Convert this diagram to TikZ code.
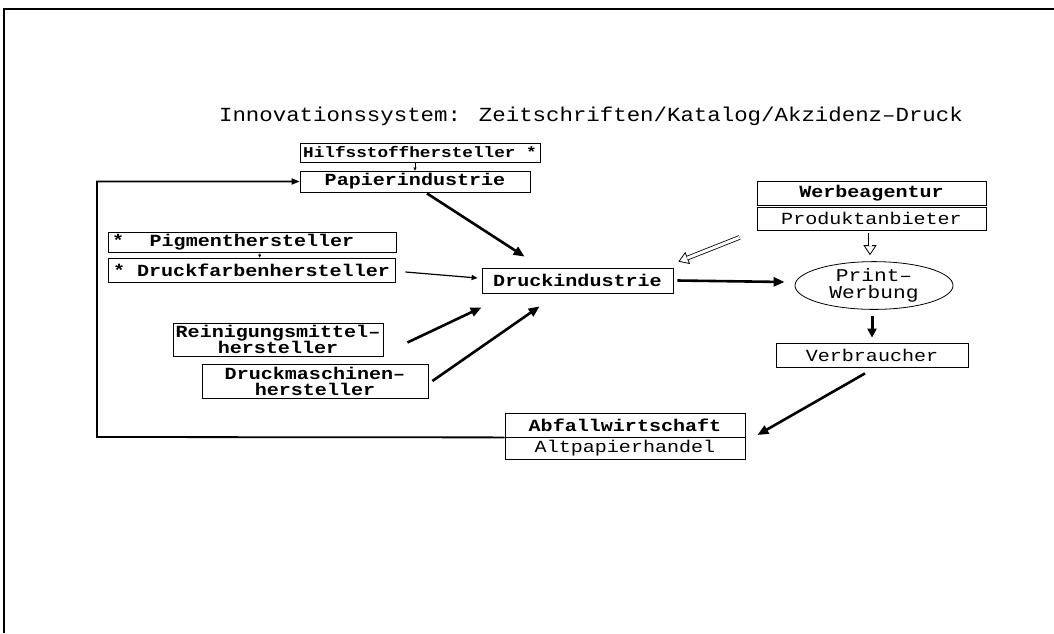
\documentclass[tikz,border=0pt]{standalone}
\usepackage{fontspec}
\usetikzlibrary{arrows.meta,calc,shapes.geometric}
\newfontfamily\tfont{Liberation Mono}[FakeStretch=1.12]
\newfontfamily\bfont{Liberation Mono}[FakeStretch=1.18]
\begin{document}
\begin{tikzpicture}[x=1pt,y=-1pt,
  box/.style={draw, line width=0.8pt, inner sep=1pt, align=center,
    font=\bfont\bfseries\fontsize{17}{16}\selectfont},
  lbox/.style={box, font=\bfont\fontsize{17}{16}\selectfont},
  thickarrow/.style={line width=2.6pt, -{Triangle[length=11pt,width=9pt]}},
  thinarrow/.style={line width=1.2pt, -{Triangle[length=6pt,width=5pt]}},
  tinyarrow/.style={line width=0.6pt, -{Triangle[length=3pt,width=3pt]}},
  hollowtip/.style={line width=0.8pt, -{Triangle[open,length=10pt,width=13pt]}},
  hollowshaft/.style={double, double distance=3pt, line width=0.8pt, shorten >=9.5pt},
  loopline/.style={line width=1.8pt, line join=miter, -{Triangle[length=8pt,width=6pt]}}]
\useasboundingbox (0,0) rectangle (1054,633);
\fill[white] (0,0) rectangle (1054,633);
\draw[line width=2pt] (4,633) -- (4,9) -- (1054,9);

\node[font=\tfont\fontsize{20}{22}\selectfont, inner sep=0pt] (title) at (591,116)
  {Innovationssystem: Zeitschriften/Katalog/Akzidenz–Druck};

\node[box, minimum width=240pt, minimum height=19pt, font=\bfont\bfseries\fontsize{15}{14}\selectfont] (hilf) at (420,152.5) {Hilfsstoffhersteller *};
\node[box, minimum width=230pt, minimum height=21pt] (papier) at (415,181.5) {Papierindustrie};
\node[box, minimum width=288pt, minimum height=20pt] (pigment) at (252,242)
  {\makebox[280pt]{*\hfill Pigmenthersteller\hfill\phantom{*}}};
\node[box, minimum width=287pt, minimum height=24pt] (farben) at (251.5,270) {* Druckfarbenhersteller};
\node[box, minimum width=191pt, minimum height=25pt] (druck) at (577.5,280.5) {Druckindustrie};
\node[box, minimum width=210pt, minimum height=33pt, inner sep=0pt] (rein) at (278,339.5) {Reinigungsmittel–\\hersteller};
\node[box, minimum width=226pt, minimum height=34pt, inner sep=0pt] (dmasch) at (315,381) {Druckmaschinen–\\hersteller};
\node[box, minimum width=229pt, minimum height=24pt] (werbe) at (871.5,193) {Werbeagentur};
\node[lbox, minimum width=229pt, minimum height=23pt] (produkt) at (871.5,218.5) {Produktanbieter};
\node[ellipse, draw, line width=0.8pt, minimum width=158pt, minimum height=43pt, inner sep=0pt,
  align=center, font=\bfont\fontsize{18}{17}\selectfont] (pw) at (874,285.5) {Print–\\Werbung};
\node[lbox, minimum width=192pt, minimum height=24pt] (verbr) at (872,355) {Verbraucher};
\node[box, minimum width=240pt, minimum height=24pt] (abfall) at (625,425) {Abfallwirtschaft};
\node[lbox, minimum width=240pt, minimum height=22pt] (altp) at (625,448) {Altpapierhandel};

\coordinate (lc1) at (97,437);

% small arrows
\draw[tinyarrow] (papier.north |- hilf.south) -- (papier.north);
\draw[tinyarrow] ($(pigment.south)+(8,0)$) -- ($(farben.north)+(8,0)$);

% into Druckindustrie
\draw[thickarrow] ($(papier.south)+(12,1)$) -- ($(druck.north west)+(43,-11)$);
\draw[thinarrow] ($(farben.east)+(10,2)$) -- ($(druck.west)+(-4,-2.5)$);
\draw[thickarrow] ($(rein.east)+(24,3)$) -- ($(druck.south west)+(0,14)$);
\draw[thickarrow] ($(dmasch.east)+(4,0)$) -- ($(druck.south west)+(58,13)$);
\draw[hollowtip] ($(produkt.south west)+(-17,7)$) -- ($(druck.north east)+(5,-6)$);
\draw[hollowshaft] ($(produkt.south west)+(-17,7)$) -- ($(druck.north east)+(5,-6)$);

% right column
\draw[thickarrow] ($(druck.east)+(4,0)$) -- ($(pw.west)+(-10,-3.5)$);
\draw[hollowtip] ($(produkt.south)+(-1.5,3)$) -- ($(pw.north)+(-4,-6)$);
\draw[hollowshaft] ($(produkt.south)+(-1.5,3)$) -- ($(pw.north)+(-4,-6)$);
\draw[line width=3pt, -{Triangle[length=9pt,width=9pt]}] ($(pw.south)+(-2,6)$) -- ($(verbr.north)+(0,-5)$);
\draw[thickarrow] ($(verbr.south)+(-7,6)$) -- ($(abfall.east)+(12,10)$);

% recycling loop
\draw[loopline] (abfall.south west) -- (lc1) |- (papier.west);
\end{tikzpicture}
\end{document}
